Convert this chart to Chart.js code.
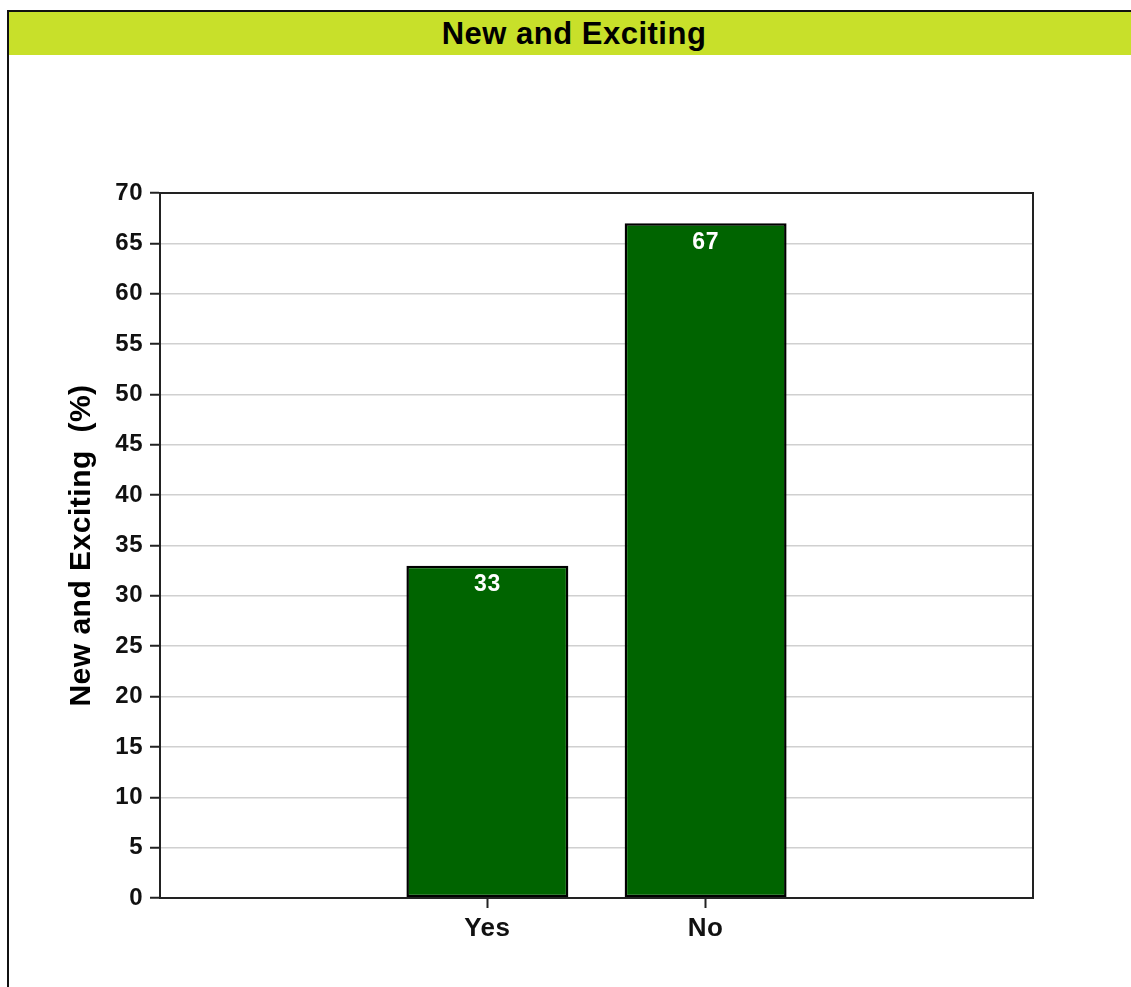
<!DOCTYPE html>
<html>
<head>
<meta charset="utf-8">
<script src="https://cdn.jsdelivr.net/npm/chart.js@4/dist/chart.umd.min.js"></script>
<style>
  html, body { margin: 0; padding: 0; background: #fff; width: 1131px; height: 987px; overflow: hidden; }
  #frame { position: absolute; left: 7px; top: 10px; width: 1140px; height: 1000px;
           border-left: 2px solid #111; border-top: 2px solid #111; box-sizing: border-box; }
  #titlebar { position: absolute; left: 9px; top: 12px; width: 1122px; height: 43px; box-sizing: border-box; padding-left: 8px;
              background: #c8e02a; font-family: "Liberation Sans", Arial, sans-serif;
              font-weight: bold; font-size: 31px; letter-spacing: 0.5px; line-height: 43px; text-align: center; color: #000; }
  #wrap { position: absolute; left: 0; top: 0; width: 1131px; height: 987px; }
</style>
</head>
<body>
<div id="frame"></div>
<div id="titlebar">New and Exciting</div>
<div id="wrap"><canvas id="c"></canvas></div>
<script>
const chartTitle = "New and Exciting";
const categories = ["", "Yes", "No", ""];
const percentValues = [null, 33, 67, null];
const yAxisTitle = "New and Exciting  (%)";
const yMin = 0, yMax = 70, yStep = 5;

const FONT = "'Liberation Sans', Arial, sans-serif";

const spacing = {
  id: 'spacing',
  beforeDraw(chart) { chart.ctx.letterSpacing = '0.5px'; }
};

const frameBorder = {
  id: 'frameBorder',
  afterDraw(chart) {
    const {ctx, chartArea: a} = chart;
    ctx.save();
    ctx.strokeStyle = '#222';
    ctx.lineWidth = 2;
    ctx.strokeRect(a.left, a.top, a.right - a.left, a.bottom - a.top);
    ctx.restore();
  }
};

const valueLabels = {
  id: 'valueLabels',
  afterDatasetsDraw(chart) {
    const {ctx} = chart;
    const meta = chart.getDatasetMeta(0);
    const data = chart.data.datasets[0].data;
    ctx.save();
    ctx.fillStyle = '#fff';
    ctx.font = "bold 23px " + FONT;
    ctx.textAlign = 'center';
    ctx.textBaseline = 'middle';
    meta.data.forEach((bar, i) => {
      const v = data[i];
      if (v === null || v === undefined) return;
      ctx.fillText(String(v), bar.x, bar.y + 19);
    });
    ctx.restore();
  }
};

new Chart(document.getElementById('c'), {
  type: 'bar',
  data: {
    labels: categories,
    datasets: [{
      label: chartTitle,
      data: percentValues,
      backgroundColor: '#006400',
      borderColor: '#000',
      borderWidth: 2.5,
      borderSkipped: false,
      categoryPercentage: 1.0,
      barPercentage: 0.742
    }]
  },
  options: {
    responsive: true,
    maintainAspectRatio: false,
    animation: false,
    layout: { padding: { top: 193, right: 98, left: 0, bottom: 0 } },
    plugins: { legend: { display: false }, tooltip: { enabled: false }, title: { display: false } },
    scales: {
      x: {
        afterFit(scale) { scale.height = 89; },
        grid: {
          display: true,
          offset: false,
          drawOnChartArea: false,
          color: 'rgba(0,0,0,0)',
          tickColor: ctx => (ctx.tick && ctx.tick.label) ? '#222' : 'rgba(0,0,0,0)',
          tickLength: 10,
          tickWidth: 2
        },
        border: { display: true, color: '#222', width: 2 },
        ticks: { color: '#111', padding: 5, font: { family: FONT, size: 26, weight: 'bold' }, maxRotation: 0, autoSkip: false }
      },
      y: {
        min: yMin, max: yMax,
        afterFit(scale) { scale.width = 160; },
        grid: {
          color: '#d0d0d0',
          lineWidth: 1.5,
          tickColor: '#222',
          tickLength: 10,
          tickWidth: 2
        },
        border: { display: true, color: '#222', width: 2 },
        ticks: { stepSize: yStep, color: '#111', padding: 7, font: { family: FONT, size: 24, weight: 'bold' } },
        title: { display: true, text: yAxisTitle, color: '#000', padding: { top: 64, bottom: 0 },
                 font: { family: FONT, size: 30, weight: 'bold' } }
      }
    }
  },
  plugins: [spacing, frameBorder, valueLabels]
});
</script>
</body>
</html>
